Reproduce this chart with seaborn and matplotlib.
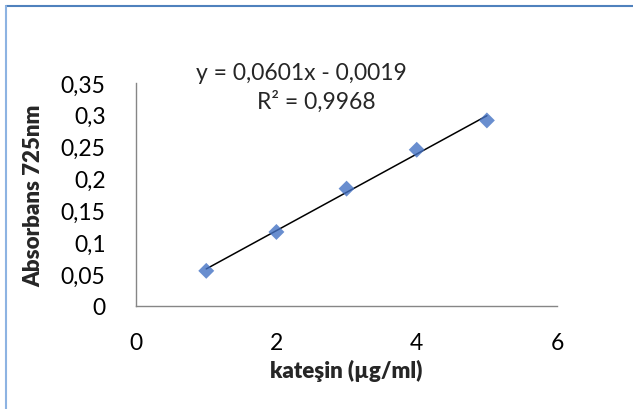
import matplotlib
matplotlib.use("Agg")
import matplotlib.pyplot as plt
import seaborn as sns
import pandas as pd
from matplotlib.lines import Line2D

# ------------ data ------------
concentration = [1, 2, 3, 4, 5]                 # kateşin (µg/ml)
absorbance = [0.055, 0.116, 0.184, 0.245, 0.291]  # Absorbans 725nm

x_ticks = [0, 2, 4, 6]
y_ticks = [0, 0.05, 0.1, 0.15, 0.2, 0.25, 0.3, 0.35]
y_tick_labels = ["0", "0,05", "0,1", "0,15", "0,2", "0,25", "0,3", "0,35"]

equation_text = "y = 0,0601x - 0,0019"
r2_text = "R² = 0,9968"

df = pd.DataFrame({"x": concentration, "y": absorbance})

sns.set_style("white")
plt.rcParams["font.family"] = ["Lato", "DejaVu Sans"]

fig = plt.figure(figsize=(6.33, 4.10), dpi=100)
ax = fig.add_axes([0.215, 0.2515, 0.665, 0.544])

sns.regplot(data=df, x="x", y="y", ax=ax, ci=None, truncate=True,
            marker="D",
            scatter_kws={"s": 66, "color": "#4472C4", "edgecolor": "none", "zorder": 3},
            line_kws={"color": "black", "linewidth": 1.1, "zorder": 2})

ax.set_xlim(0, 6)
ax.set_ylim(0, 0.35)
ax.set_xticks(x_ticks)
ax.set_xticklabels([str(t) for t in x_ticks])
ax.set_yticks(y_ticks)
ax.set_yticklabels(y_tick_labels)

for side in ["top", "right"]:
    ax.spines[side].set_visible(False)
for side in ["left", "bottom"]:
    ax.spines[side].set_color("#868686")
    ax.spines[side].set_linewidth(1.0)

ax.tick_params(axis="both", direction="out", length=5, width=1.0,
               color="#868686", labelsize=16.5, labelcolor="black")
ax.tick_params(axis="y", pad=17)
ax.tick_params(axis="x", pad=14)

ax.set_xlabel("kateşin (µg/ml)", fontsize=16, fontweight="heavy", labelpad=4)
ax.set_ylabel("Absorbans 725nm", fontsize=16, fontweight="heavy", labelpad=12)

# trendline equation, as Excel places it
fig.text(301 / 633, 1 - 74 / 410, equation_text, fontsize=16.5, ha="center", va="center")
fig.text(316 / 633, 1 - 102 / 410, r2_text, fontsize=16.5, ha="center", va="center")

# chart area frame (only top and left edge visible in the crop)
fig.add_artist(Line2D([6 / 633, 1], [1 - 6.5 / 410, 1 - 6.5 / 410],
                      transform=fig.transFigure, color="#4F81BD", linewidth=1.5))
fig.add_artist(Line2D([6 / 633, 6 / 633], [0, 1 - 6.5 / 410],
                      transform=fig.transFigure, color="#8DB3E2", linewidth=1.5))

fig.savefig("out.png", dpi=100)
